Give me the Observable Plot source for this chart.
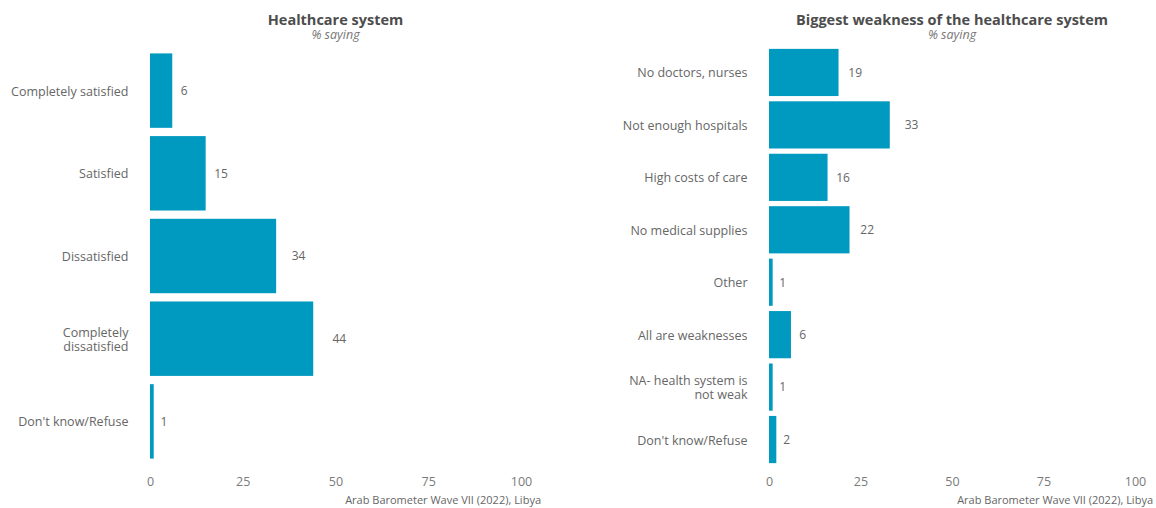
<!DOCTYPE html>
<html><head><meta charset="utf-8">
<script src="https://cdn.jsdelivr.net/npm/d3@7"></script>
<script src="https://cdn.jsdelivr.net/npm/@observablehq/plot@0.6"></script>
<style>
body{margin:0;background:#fff;font-family:"Open Sans",sans-serif;}
#chart{position:relative;width:1156px;height:508px;overflow:hidden;}
.ttl{position:absolute;font-weight:700;font-size:14.5px;color:#4d4d4d;text-align:center;white-space:nowrap;line-height:14px;}
.sub{position:absolute;font-style:italic;font-size:12.5px;color:#777;text-align:center;white-space:nowrap;line-height:12px;}
.cap{position:absolute;font-size:11px;color:#666;text-align:right;white-space:nowrap;line-height:12px;}
.plotwrap{position:absolute;line-height:0;}
</style></head>
<body><div id="chart"></div>
<script>
const satisfactionCategories = ["Completely satisfied","Satisfied","Dissatisfied","Completely\ndissatisfied","Don't know/Refuse"];
const satisfactionValues = [6,15,34,44,1];
const weaknessCategories = ["No doctors, nurses","Not enough hospitals","High costs of care","No medical supplies","Other","All are weaknesses","NA- health system is\nnot weak","Don't know/Refuse"];
const weaknessValues = [19,33,16,22,1,6,1,2];
const xTicks = [0,25,50,75,100];
const panelTitles = ["Healthcare system","Biggest weakness of the healthcare system"];
const subtitleText = "% saying";
const captionText = "Arab Barometer Wave VII (2022), Libya";

const FONT = "'Open Sans', sans-serif";
const BAR = "#0099c0";
const chart = document.getElementById("chart");

function panel({left, width, marginLeft, marginRight, cats, vals, title}) {
  const data = cats.map((c,i)=>({cat:c, value:vals[i]}));
  const plotLeft = left + marginLeft;
  const plotW = width - marginLeft - marginRight;
  const t = document.createElement("div");
  t.className = "ttl"; t.textContent = title;
  t.style.left = plotLeft + "px"; t.style.width = plotW + "px"; t.style.top = "13px";
  chart.appendChild(t);
  const s = document.createElement("div");
  s.className = "sub"; s.textContent = subtitleText;
  s.style.left = plotLeft + "px"; s.style.width = plotW + "px"; s.style.top = "29px";
  chart.appendChild(s);

  const p = Plot.plot({
    width, height: 460,
    marginTop: 0, marginBottom: 30, marginLeft, marginRight,
    style: {fontFamily: FONT, fontSize: "12.5px", background: "transparent", overflow: "visible"},
    x: {domain: [0,100], label: null},
    y: {domain: cats, paddingInner: 0.1, paddingOuter: 0.15, round: false, label: null},
    marks: [
      Plot.barX(data, {x: "value", y: "cat", fill: BAR}),
      Plot.text(data, {x: d => d.value*1.1 + 2.5, y: "cat", text: d => String(d.value), fill: "#666", fontSize: 12}),
      Plot.axisX({ticks: xTicks, tickSize: 0, tickPadding: 6, fill: "#7a7a7a", label: null}),
      Plot.axisY({tickSize: 0, tickPadding: 22, fill: "#666", label: null, lineHeight: 1.12})
    ]
  });
  const w = document.createElement("div");
  w.className = "plotwrap"; w.style.left = left + "px"; w.style.top = "41px";
  w.appendChild(p);
  chart.appendChild(w);

  const c = document.createElement("div");
  c.className = "cap"; c.textContent = captionText;
  c.style.right = (1156 - (left + width)) + "px"; c.style.top = "494px";
  chart.appendChild(c);
}

panel({left: 0, width: 541, marginLeft: 150, marginRight: 20, cats: satisfactionCategories, vals: satisfactionValues, title: panelTitles[0]});
panel({left: 560, width: 593, marginLeft: 209, marginRight: 18, cats: weaknessCategories, vals: weaknessValues, title: panelTitles[1]});
</script>
</body></html>
